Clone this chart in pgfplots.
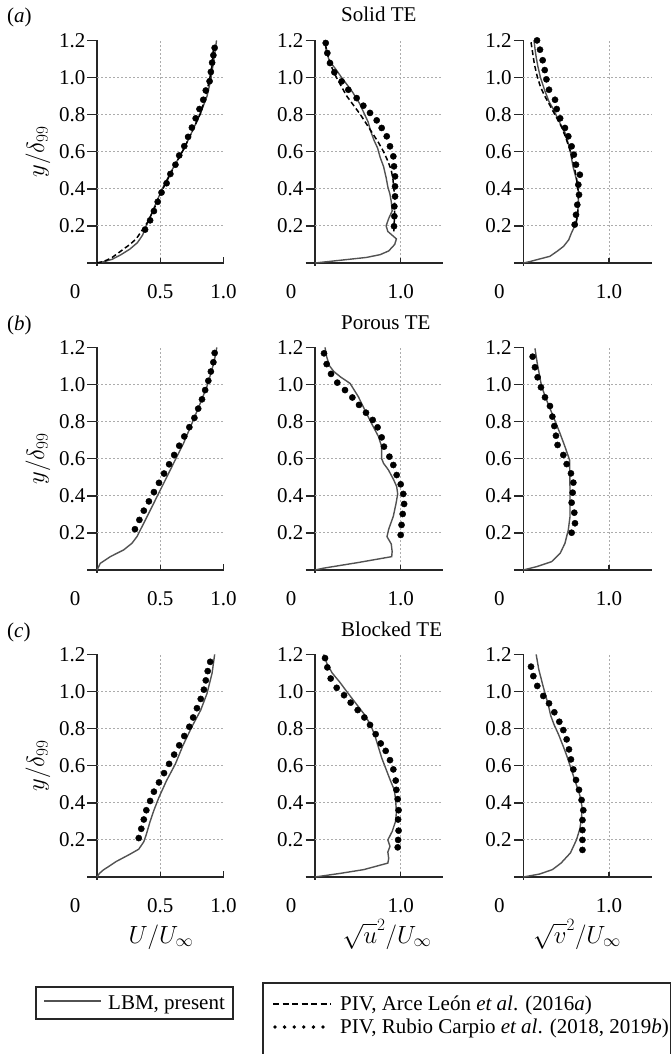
\documentclass[border=0pt]{standalone}
\usepackage{fontspec}
\setmainfont{Liberation Serif}
\usepackage{pgfplots}
\pgfplotsset{compat=1.18}

\newcommand{\fs}{\fontsize{21pt}{25pt}\selectfont}
\newcommand{\fl}{\fontsize{23pt}{27pt}\selectfont}

\tikzset{
 gridl/.style={gray!65, line width=0.9pt, dash pattern=on 2pt off 2pt},
 axl/.style={black!85, line width=1.4pt},
 lbm/.style={black!68, line width=1.4pt},
 arce/.style={black, line width=1.5pt, dash pattern=on 5pt off 3pt},
}
\pgfplotsset{
 panel/.style={
  y=185.5pt, ymin=0, ymax=1.2,
  axis x line=bottom, axis y line=left,
  axis line style={-, black!85, line width=1.4pt},
  xtick=\empty,
  ytick={0,0.2,0.4,0.6,0.8,1.0,1.2},
  yticklabels={,0.2,0.4,0.6,0.8,1.0,1.2},
  tick align=outside, major tick length=9.5pt,
  ytick style={black!85, line width=1.4pt},
  yticklabel style={font=\fs, inner sep=2pt},
  clip=false, anchor=south west,
 },
 c1/.style={panel, x=126.5pt, xmin=0, xmax=1.0},
 c2/.style={panel, x=85.7pt, xmin=0, xmax=1.49},
 c3/.style={panel, x=85.7pt, xmin=0, xmax=1.5},
 lbmp/.style={lbm, no marks},
 arcep/.style={arce, no marks},
 rubp/.style={only marks, mark=*, mark size=3.1pt, black, mark options={fill=black, draw=none}},
}

\newcommand{\mygrid}[2]{%
 \draw[gridl] (axis cs:0,0.2) -- (axis cs:#1,0.2);
 \draw[gridl] (axis cs:0,0.4) -- (axis cs:#1,0.4);
 \draw[gridl] (axis cs:0,0.6) -- (axis cs:#1,0.6);
 \draw[gridl] (axis cs:0,0.8) -- (axis cs:#1,0.8);
 \draw[gridl] (axis cs:0,1.0) -- (axis cs:#1,1.0);
 \draw[gridl] (axis cs:#2,0) -- (axis cs:#2,1.2);
 \draw[axl] (axis cs:0,0) -- ++(-9.5pt,0pt);
 \draw[axl] (axis cs:0,0) -- ++(0pt,-3pt);
}
\newcommand{\xtA}{%
 \draw[axl] (axis cs:0.5,0) -- ++(0pt,5pt);
 \draw[axl] (axis cs:1.0,0) -- ++(0pt,6pt);
 \node[font=\fs, anchor=base, inner sep=0pt, xshift=-22pt, yshift=-35pt] at (axis cs:0,0) {0};
 \node[font=\fs, anchor=base, inner sep=0pt, yshift=-35pt] at (axis cs:0.5,0) {0.5};
 \node[font=\fs, anchor=base, inner sep=0pt, yshift=-35pt] at (axis cs:1.0,0) {1.0};
}
\newcommand{\xtB}{%
 \draw[axl] (axis cs:1.0,0) -- ++(0pt,5pt);
 \node[font=\fs, anchor=base, inner sep=0pt, xshift=-24pt, yshift=-35pt] at (axis cs:0,0) {0};
 \node[font=\fs, anchor=base, inner sep=0pt, yshift=-35pt] at (axis cs:1.0,0) {1.0};
}

\begin{document}
\begin{tikzpicture}
\useasboundingbox (0,0) rectangle (671pt,-1054pt);

% ---------------- Row (a) Solid TE ----------------
\begin{axis}[c1, at={(97pt,-263pt)}]
\mygrid{1.0}{0.5}\xtA
\addplot[lbmp] coordinates {(0,0)(0.06,0.008)(0.12,0.02)(0.19,0.045)(0.26,0.075)(0.32,0.11)(0.36,0.15)(0.39,0.2)(0.44,0.28)(0.49,0.36)(0.53,0.42)(0.6,0.51)(0.69,0.62)(0.76,0.72)(0.82,0.81)(0.87,0.9)(0.9,0.99)(0.92,1.08)(0.935,1.15)(0.945,1.2)};
\addplot[arcep] coordinates {(0,0)(0.06,0.01)(0.12,0.03)(0.19,0.065)(0.26,0.1)(0.31,0.13)(0.36,0.18)(0.4,0.22)(0.45,0.29)(0.5,0.37)(0.55,0.44)(0.61,0.52)(0.69,0.62)(0.76,0.72)(0.82,0.81)(0.86,0.9)(0.89,0.99)(0.91,1.07)(0.92,1.15)};
\addplot[rubp] coordinates {(0.38,0.18)(0.42,0.23)(0.45,0.28)(0.48,0.33)(0.51,0.38)(0.55,0.43)(0.58,0.48)(0.62,0.53)(0.65,0.58)(0.69,0.63)(0.72,0.68)(0.75,0.73)(0.78,0.78)(0.81,0.83)(0.84,0.88)(0.86,0.93)(0.89,0.98)(0.9,1.03)(0.91,1.08)(0.92,1.12)(0.93,1.16)};
\end{axis}

\begin{axis}[c2, at={(315pt,-263pt)}]
\mygrid{1.49}{1.0}\xtB
\addplot[lbmp] coordinates {(0,0)(0.3,0.015)(0.6,0.03)(0.76,0.045)(0.86,0.065)(0.93,0.1)(0.95,0.13)(0.9,0.15)(0.85,0.17)(0.83,0.2)(0.86,0.24)(0.9,0.28)(0.89,0.33)(0.875,0.37)(0.85,0.41)(0.83,0.46)(0.8,0.52)(0.76,0.57)(0.73,0.62)(0.69,0.66)(0.65,0.71)(0.62,0.76)(0.58,0.8)(0.52,0.86)(0.44,0.92)(0.36,0.97)(0.31,1.0)(0.25,1.04)(0.2,1.07)(0.16,1.1)(0.13,1.15)(0.11,1.2)};
\addplot[arcep] coordinates {(0.12,1.18)(0.15,1.12)(0.19,1.06)(0.25,1.0)(0.31,0.95)(0.37,0.9)(0.45,0.85)(0.53,0.8)(0.6,0.75)(0.67,0.7)(0.74,0.65)(0.8,0.6)(0.85,0.55)(0.89,0.5)(0.91,0.45)(0.92,0.4)(0.93,0.35)(0.93,0.3)(0.93,0.25)(0.92,0.2)(0.92,0.17)};
\addplot[rubp] coordinates {(0.125,1.186)(0.144,1.132)(0.175,1.078)(0.226,1.028)(0.311,0.979)(0.389,0.934)(0.486,0.889)(0.564,0.848)(0.642,0.809)(0.72,0.769)(0.778,0.728)(0.837,0.683)(0.875,0.629)(0.914,0.575)(0.922,0.521)(0.934,0.467)(0.934,0.413)(0.934,0.359)(0.926,0.305)(0.926,0.252)(0.922,0.198)};
\end{axis}

\begin{axis}[c3, at={(523.3pt,-263pt)}]
\mygrid{1.5}{1.0}\xtB
\addplot[lbmp] coordinates {(0,0)(0.08,0.008)(0.16,0.018)(0.31,0.036)(0.4,0.065)(0.47,0.09)(0.53,0.125)(0.56,0.16)(0.6,0.2)(0.62,0.23)(0.64,0.3)(0.645,0.38)(0.62,0.45)(0.58,0.52)(0.545,0.61)(0.49,0.7)(0.41,0.77)(0.35,0.83)(0.3,0.87)(0.25,0.93)(0.2,1.0)(0.17,1.06)(0.15,1.11)(0.135,1.16)(0.125,1.2)};
\addplot[arcep] coordinates {(0.09,1.19)(0.11,1.13)(0.13,1.07)(0.16,1.01)(0.2,0.95)(0.25,0.9)(0.31,0.85)(0.38,0.79)(0.45,0.73)(0.5,0.67)(0.55,0.6)(0.59,0.53)(0.62,0.46)(0.64,0.39)(0.645,0.32)(0.63,0.25)(0.61,0.2)};
\addplot[rubp] coordinates {(0.16,1.2)(0.195,1.15)(0.226,1.093)(0.25,1.04)(0.27,0.99)(0.3,0.934)(0.37,0.88)(0.39,0.83)(0.43,0.78)(0.486,0.728)(0.525,0.683)(0.564,0.629)(0.59,0.584)(0.615,0.53)(0.66,0.476)(0.642,0.422)(0.65,0.368)(0.63,0.314)(0.615,0.26)(0.6,0.207)};
\end{axis}

% ---------------- Row (b) Porous TE ----------------
\begin{axis}[c1, at={(97pt,-570pt)}]
\mygrid{1.0}{0.5}\xtA
\addplot[lbmp] coordinates {(0,0)(0.026,0.036)(0.105,0.072)(0.21,0.108)(0.276,0.144)(0.316,0.18)(0.368,0.25)(0.434,0.34)(0.487,0.413)(0.553,0.503)(0.618,0.593)(0.684,0.683)(0.75,0.79)(0.816,0.898)(0.868,0.988)(0.908,1.078)(0.934,1.15)(0.947,1.2)};
\addplot[rubp] coordinates {(0.30,0.22)(0.335,0.27)(0.37,0.32)(0.41,0.37)(0.45,0.42)(0.49,0.47)(0.53,0.52)(0.57,0.57)(0.61,0.62)(0.65,0.67)(0.69,0.72)(0.73,0.77)(0.77,0.82)(0.80,0.87)(0.83,0.92)(0.855,0.97)(0.88,1.02)(0.90,1.07)(0.92,1.12)(0.93,1.17)};
\end{axis}

\begin{axis}[c2, at={(315pt,-570pt)}]
\mygrid{1.49}{1.0}\xtB
\addplot[lbmp] coordinates {(0,0)(0.1,0.01)(0.5,0.04)(0.895,0.072)(0.9,0.1)(0.89,0.14)(0.84,0.18)(0.86,0.22)(0.914,0.29)(0.946,0.36)(0.965,0.41)(0.953,0.45)(0.914,0.49)(0.856,0.54)(0.8,0.575)(0.778,0.6)(0.778,0.665)(0.74,0.72)(0.66,0.79)(0.584,0.86)(0.506,0.934)(0.409,1.006)(0.3,1.04)(0.22,1.07)(0.17,1.1)(0.136,1.15)(0.117,1.2)};
\addplot[rubp] coordinates {(0.105,1.168)(0.136,1.11)(0.187,1.057)(0.26,1.01)(0.35,0.97)(0.436,0.93)(0.514,0.89)(0.595,0.848)(0.673,0.809)(0.73,0.769)(0.778,0.715)(0.805,0.665)(0.868,0.611)(0.914,0.566)(0.953,0.512)(1.0,0.462)(1.03,0.41)(1.04,0.356)(1.023,0.302)(1.01,0.243)(1.0,0.189)};
\end{axis}

\begin{axis}[c3, at={(523.3pt,-570pt)}]
\mygrid{1.5}{1.0}\xtB
\addplot[lbmp] coordinates {(0,0)(0.156,0.018)(0.33,0.045)(0.43,0.09)(0.486,0.144)(0.525,0.216)(0.545,0.288)(0.545,0.43)(0.54,0.593)(0.486,0.665)(0.428,0.737)(0.35,0.827)(0.272,0.916)(0.214,0.988)(0.163,1.114)(0.136,1.195)};
\addplot[rubp] coordinates {(0.109,1.15)(0.136,1.093)(0.167,1.039)(0.206,0.985)(0.253,0.931)(0.311,0.884)(0.339,0.827)(0.362,0.776)(0.381,0.724)(0.40,0.674)(0.467,0.62)(0.506,0.571)(0.556,0.521)(0.584,0.471)(0.576,0.417)(0.564,0.363)(0.595,0.309)(0.603,0.252)(0.564,0.201)};
\end{axis}

% ---------------- Row (c) Blocked TE ----------------
\begin{axis}[c1, at={(97pt,-877pt)}]
\mygrid{1.0}{0.5}\xtA
\addplot[lbmp] coordinates {(0,0)(0.02,0.02)(0.05,0.038)(0.1,0.06)(0.15,0.083)(0.25,0.119)(0.33,0.15)(0.37,0.19)(0.39,0.23)(0.42,0.3)(0.45,0.36)(0.49,0.43)(0.55,0.52)(0.62,0.61)(0.68,0.71)(0.75,0.81)(0.82,0.9)(0.87,0.99)(0.91,1.1)(0.93,1.2)};
\addplot[rubp] coordinates {(0.33,0.21)(0.35,0.26)(0.37,0.31)(0.39,0.36)(0.42,0.41)(0.45,0.46)(0.49,0.51)(0.53,0.56)(0.57,0.61)(0.61,0.66)(0.65,0.71)(0.69,0.76)(0.73,0.81)(0.76,0.86)(0.79,0.91)(0.82,0.96)(0.845,1.01)(0.86,1.06)(0.875,1.11)(0.895,1.16)};
\end{axis}

\begin{axis}[c2, at={(315pt,-877pt)}]
\mygrid{1.49}{1.0}\xtB
\addplot[lbmp] coordinates {(0,0)(0.3,0.02)(0.57,0.04)(0.85,0.075)(0.86,0.1)(0.85,0.135)(0.875,0.165)(0.85,0.2)(0.9,0.245)(0.94,0.3)(0.95,0.35)(0.94,0.42)(0.925,0.47)(0.88,0.52)(0.83,0.58)(0.78,0.64)(0.74,0.7)(0.7,0.76)(0.65,0.82)(0.57,0.88)(0.47,0.94)(0.37,1.0)(0.29,1.05)(0.2,1.1)(0.14,1.15)(0.1,1.2)};
\addplot[rubp] coordinates {(0.117,1.18)(0.144,1.13)(0.183,1.07)(0.253,1.02)(0.339,0.98)(0.416,0.94)(0.498,0.90)(0.576,0.86)(0.642,0.82)(0.708,0.77)(0.767,0.72)(0.825,0.68)(0.875,0.63)(0.914,0.58)(0.942,0.52)(0.95,0.47)(0.965,0.42)(0.975,0.36)(0.97,0.31)(0.975,0.25)(0.97,0.2)(0.965,0.16)};
\end{axis}

\begin{axis}[c3, at={(523.3pt,-877pt)}]
\mygrid{1.5}{1.0}\xtB
\addplot[lbmp] coordinates {(0,0)(0.19,0.016)(0.34,0.04)(0.44,0.075)(0.55,0.13)(0.62,0.2)(0.66,0.26)(0.68,0.32)(0.685,0.38)(0.66,0.44)(0.61,0.51)(0.56,0.58)(0.51,0.65)(0.47,0.7)(0.41,0.77)(0.36,0.82)(0.32,0.87)(0.29,0.93)(0.23,1.03)(0.18,1.12)(0.15,1.2)};
\addplot[rubp] coordinates {(0.09,1.134)(0.117,1.083)(0.163,1.03)(0.233,0.976)(0.3,0.936)(0.362,0.888)(0.42,0.837)(0.467,0.792)(0.506,0.742)(0.533,0.688)(0.556,0.634)(0.584,0.58)(0.615,0.523)(0.65,0.47)(0.68,0.415)(0.7,0.36)(0.69,0.307)(0.69,0.253)(0.69,0.2)(0.69,0.146)};
\end{axis}

% ---------------- Labels ----------------
\node[anchor=base west, inner sep=0pt, font=\fs] at (7pt,-23pt) {(\textit{a})};
\node[anchor=base west, inner sep=0pt, font=\fs] at (7pt,-330pt) {(\textit{b})};
\node[anchor=base west, inner sep=0pt, font=\fs] at (7pt,-637pt) {(\textit{c})};
\node[anchor=base west, inner sep=0pt, font=\fs] at (341pt,-22pt) {Solid TE};
\node[anchor=base west, inner sep=0pt, font=\fs] at (341pt,-329pt) {Porous TE};
\node[anchor=base west, inner sep=0pt, font=\fs] at (341pt,-636pt) {Blocked TE};
\node[rotate=90, inner sep=0pt, font=\fl] at (38pt,-152pt) {$y/\delta_{99}$};
\node[rotate=90, inner sep=0pt, font=\fl] at (38pt,-459pt) {$y/\delta_{99}$};
\node[rotate=90, inner sep=0pt, font=\fl] at (38pt,-766pt) {$y/\delta_{99}$};
\node[anchor=base, inner sep=0pt, font=\fl] at (161pt,-943pt) {$U/U_\infty$};
\node[anchor=base, inner sep=0pt, font=\fl] at (387pt,-943pt) {$\sqrt{u}^{2}/U_\infty$};
\node[anchor=base, inner sep=0pt, font=\fl] at (577pt,-943pt) {$\sqrt{v}^{2}/U_\infty$};

% ---------------- Legend ----------------
\draw[black!85, line width=1.2pt] (36pt,-987pt) rectangle (233pt,-1019pt);
\draw[lbm, line width=1.6pt] (44pt,-1001pt) -- (101pt,-1001pt);
\node[anchor=base west, inner sep=0pt, font=\fs] at (108pt,-1009pt) {LBM, present};
\draw[black!85, line width=1.2pt] (263pt,-1062pt) -- (263pt,-983pt) -- (670.2pt,-983pt) -- (670.2pt,-1062pt);
\draw[black, line width=1.8pt, dash pattern=on 6pt off 3.5pt] (273pt,-1004pt) -- (331pt,-1004pt);
\node[anchor=base west, inner sep=0pt, font=\fs] at (340pt,-1010pt) {PIV, Arce León \textit{et al}. (2016\textit{a})};
\draw[black, line width=3.8pt, line cap=round, dash pattern=on 0pt off 9.6pt] (275pt,-1027pt) -- (331pt,-1027pt);
\node[anchor=base west, inner sep=0pt, font=\fs] at (340pt,-1033pt) {PIV, Rubio Carpio \textit{et al}. (2018, 2019\textit{b})};
\end{tikzpicture}
\end{document}
